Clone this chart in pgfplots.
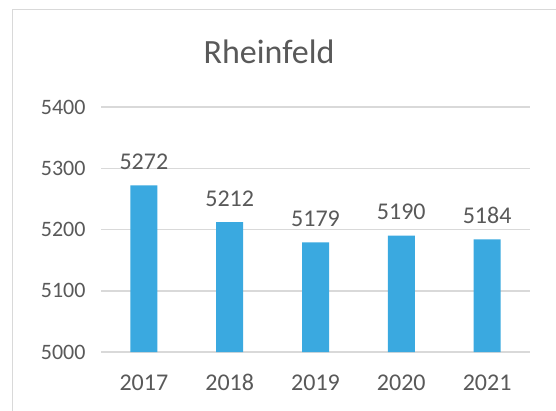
\documentclass[border=0pt]{standalone}
\usepackage{pgfplots}
\pgfplotsset{compat=1.18}
\usepackage{fontspec}
\setmainfont{Carlito}
\definecolor{barblue}{HTML}{3AA9E0}
\definecolor{txtgray}{HTML}{595959}
\definecolor{gridgray}{HTML}{D9D9D9}
\begin{document}
\begin{tikzpicture}[x=1pt,y=1pt]
\useasboundingbox (0,0) rectangle (556,410);
\fill[white] (0,0) rectangle (556,410);
\draw[gridgray, line width=1.2pt] (12.5,-10) -- (12.5,400.5) -- (600,400.5);
\node[txtgray, font=\fontsize{34}{38}\selectfont, anchor=base] at (269,346) {Rheinfeld};
\begin{axis}[
  at={(101pt,58pt)}, anchor=south west,
  scale only axis, width=429pt, height=245pt,
  xmin=-0.5, xmax=4.5, ymin=5000, ymax=5400,
  axis line style={draw=none},
  ytick={5000,5100,5200,5300,5400},
  xtick={0,1,2,3,4},
  xticklabels={2017,2018,2019,2020,2021},
  ymajorgrids, grid style={gridgray, line width=1.5pt},
  major tick length=0pt,
  /pgf/number format/assume math mode=true,
  /pgf/number format/1000 sep={},
  yticklabel style={txtgray, font=\fontsize{22}{24}\selectfont, xshift=-12pt},
  xticklabel style={txtgray, font=\fontsize{24}{26}\selectfont, yshift=-19pt},
  clip=false,
]
\addplot[ybar, bar width=27pt, fill=barblue, draw=none,
  nodes near coords, point meta=y,
  nodes near coords style={txtgray, font=\fontsize{24}{26}\selectfont, anchor=south, yshift=12pt, /pgf/number format/1000 sep={}, /pgf/number format/assume math mode=true}]
  coordinates {(0,5272) (1,5212) (2,5179) (3,5190) (4,5184)};
\end{axis}
\end{tikzpicture}
\end{document}
